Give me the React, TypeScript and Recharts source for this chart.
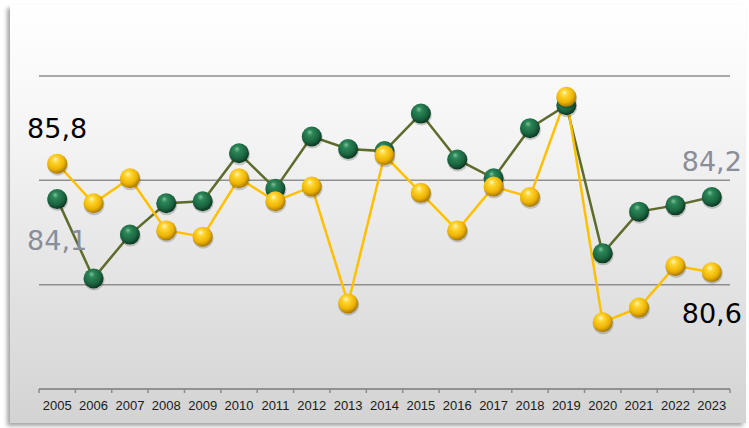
import React from "react";
import { CartesianGrid, LabelList, Line, LineChart, XAxis, YAxis } from "recharts";

const years = [
  "2005", "2006", "2007", "2008", "2009", "2010", "2011", "2012", "2013", "2014",
  "2015", "2016", "2017", "2018", "2019", "2020", "2021", "2022", "2023",
];
const greenValues = [
  84.1, 80.3, 82.4, 83.9, 84.0, 86.3, 84.6, 87.1, 86.5, 86.4,
  88.2, 86.0, 85.1, 87.5, 88.6, 81.5, 83.5, 83.8, 84.2,
];
const yellowValues = [
  85.8, 83.9, 85.1, 82.6, 82.3, 85.1, 84.0, 84.7, 79.1, 86.2,
  84.4, 82.6, 84.7, 84.2, 89.0, 78.2, 78.9, 80.9, 80.6,
];
const yTicks = [75, 80, 85, 90];

const data = years.map((year, i) => ({
  year,
  green: greenValues[i],
  yellow: yellowValues[i],
}));

const W = 749;
const H = 428;
const M = { top: 76, right: 19, left: 39, bottom: 9 };
const BAND = (W - M.left - M.right) / years.length;

const fmt = (v: number) => v.toFixed(1).replace(".", ",");

// sphere-looking markers
const Sphere = (fillId: string) => (props: any) => {
  const { cx, cy, index } = props;
  if (cx == null || cy == null) return null;
  return (
    <g key={`dot-${fillId}-${index}`}>
      <circle cx={cx + 0.5} cy={cy + 1.5} r={10.5} fill="rgba(0,0,0,0.18)" />
      <circle cx={cx} cy={cy} r={10} fill={`url(#${fillId})`} />
    </g>
  );
};

// labels only on first and last point
const edgeLabel = (series: "green" | "yellow") => (props: any) => {
  const { x, y, value, index } = props;
  const last = years.length - 1;
  if (index !== 0 && index !== last) return null;
  let above: boolean;
  let color: string;
  if (series === "yellow") {
    above = index === 0;
    color = "#000000";
  } else {
    above = index === last;
    color = "#8a8e99";
  }
  return (
    <text
      x={x}
      y={above ? y - 26 : y + 51}
      textAnchor="middle"
      fontFamily="DejaVu Sans"
      fontSize={27}
      fill={color}
    >
      {fmt(value)}
    </text>
  );
};

const YearTick = (props: any) => {
  const { x, y, payload, index } = props;
  const last = index === years.length - 1;
  return (
    <g>
      <line x1={x - BAND / 2} x2={x - BAND / 2} y1={y} y2={y + 4} stroke="#8c8c8c" strokeWidth={1.5} />
      {last && (
        <line x1={x + BAND / 2} x2={x + BAND / 2} y1={y} y2={y + 4} stroke="#8c8c8c" strokeWidth={1.5} />
      )}
      <text
        x={x}
        y={y + 16}
        textAnchor="middle"
        dominantBaseline="central"
        fontFamily="Liberation Sans"
        fontSize={13}
        fill="#1a1a1a"
      >
        {payload.value}
      </text>
    </g>
  );
};

export default function App() {
  return (
    <div style={{ position: "absolute", left: 0, top: 0, width: W, height: H, background: "#ffffff", overflow: "hidden" }}>
      <div
        style={{
          position: "absolute",
          left: 10,
          top: 5,
          width: 736,
          height: 418,
          background: "linear-gradient(to bottom, #ffffff 0%, #f7f7f7 25%, #e6e6e6 60%, #d3d3d3 100%)",
          boxShadow: "-3px 3px 4px rgba(0,0,0,0.35)",
        }}
      />
      <div style={{ position: "absolute", left: 0, top: 0 }}>
        <LineChart width={W} height={H} data={data} margin={M}>
          <defs>
            <radialGradient id="ballYellow" cx="42%" cy="38%" r="62%" fx="40%" fy="28%">
              <stop offset="0%" stopColor="#fff6c2" />
              <stop offset="25%" stopColor="#ffd633" />
              <stop offset="70%" stopColor="#eeb300" />
              <stop offset="100%" stopColor="#a67800" />
            </radialGradient>
            <radialGradient id="ballGreen" cx="42%" cy="38%" r="62%" fx="40%" fy="28%">
              <stop offset="0%" stopColor="#7cc29b" />
              <stop offset="25%" stopColor="#2c8657" />
              <stop offset="70%" stopColor="#1b6440" />
              <stop offset="100%" stopColor="#0b3720" />
            </radialGradient>
          </defs>
          <CartesianGrid vertical={false} stroke="#8f8f8f" strokeWidth={1.5} />
          <XAxis
            dataKey="year"
            height={30}
            padding={{ left: BAND / 2, right: BAND / 2 }}
            axisLine={{ stroke: "#8c8c8c", strokeWidth: 1.5 }}
            tickLine={false}
            tickSize={0}
            tickMargin={0}
            interval={0}
            tick={<YearTick />}
          />
          <YAxis hide domain={[75, 90]} ticks={yTicks} />
          <Line
            type="linear"
            dataKey="green"
            stroke="#5d6b2c"
            strokeWidth={2.5}
            dot={Sphere("ballGreen")}
            activeDot={false}
            isAnimationActive={false}
          >
            <LabelList dataKey="green" content={edgeLabel("green")} />
          </Line>
          <Line
            type="linear"
            dataKey="yellow"
            stroke="#ffc000"
            strokeWidth={2.5}
            dot={Sphere("ballYellow")}
            activeDot={false}
            isAnimationActive={false}
          >
            <LabelList dataKey="yellow" content={edgeLabel("yellow")} />
          </Line>
        </LineChart>
      </div>
    </div>
  );
}
